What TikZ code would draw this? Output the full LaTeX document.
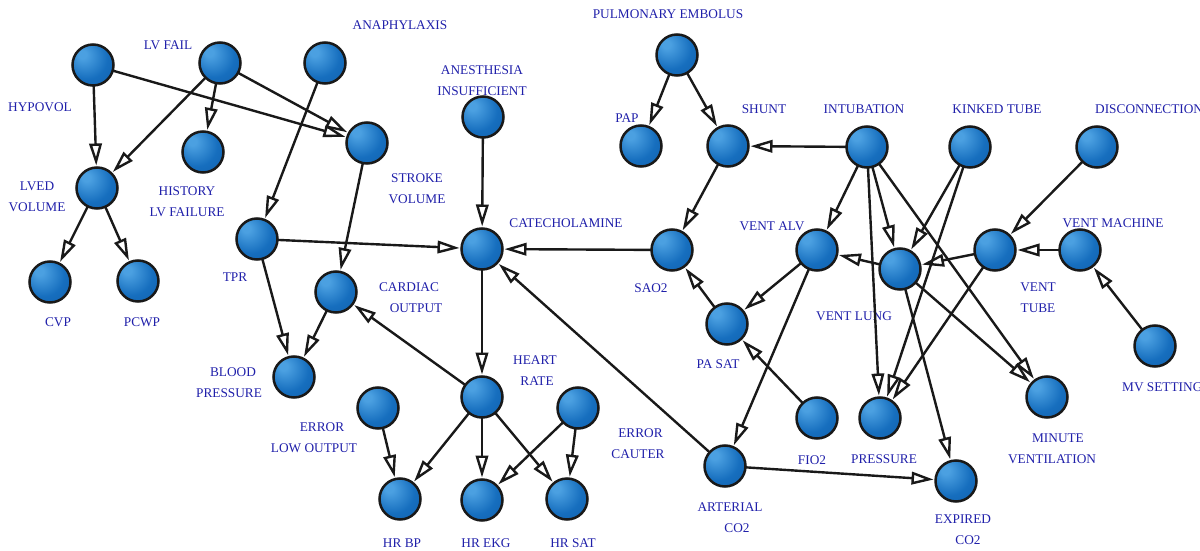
\documentclass[tikz,border=0pt]{standalone}
\usepackage{fontspec}
\setmainfont{Liberation Serif}
\usetikzlibrary{arrows.meta}

\definecolor{labelblue}{RGB}{32,32,170}
\definecolor{sphhi}{RGB}{75,160,225}
\definecolor{sphmid}{RGB}{22,110,190}
\definecolor{sphlow}{RGB}{16,92,168}
\definecolor{sphdark}{RGB}{10,55,110}
% glossy blue ball used for every variable of the network
\pgfdeclareradialshading{bluesphere}{\pgfpoint{-14bp}{14bp}}{%
  color(0bp)=(sphhi); color(5bp)=(sphhi); color(26bp)=(sphmid);
  color(50bp)=(sphlow); color(66bp)=(sphdark)}

\tikzset{
  sphere/.style={circle, minimum size=41pt, inner sep=0pt, outer sep=0pt,
    draw=black!90, line width=2.5pt, shading=bluesphere},
  lbl/.style={text=labelblue, font=\fontsize{13.3}{21}\selectfont,
    align=center, inner sep=0pt},
  link/.style={draw=black!90, line width=2.4pt, shorten >=2pt,
    -{Triangle[length=22pt,width=12.5pt,fill=white]}},
}

\begin{document}
\begin{tikzpicture}[x=1pt,y=-1pt]
\useasboundingbox (0,0) rectangle (1200,551);

% ---- variables ----
\node[sphere] (hypovol)   at (93,65)   {};
\node[sphere] (lvfail)    at (220,63)  {};
\node[sphere] (anaph)     at (325,63)  {};
\node[sphere] (strokevol) at (367,143) {};
\node[sphere] (history)   at (203,152) {};
\node[sphere] (lved)      at (97,188)  {};
\node[sphere] (cvp)       at (50,282)  {};
\node[sphere] (pcwp)      at (138,281) {};
\node[sphere] (tpr)       at (257,239) {};
\node[sphere] (co)        at (336,292) {};
\node[sphere] (bp)        at (294,377) {};
\node[sphere] (anes)      at (483,117) {};
\node[sphere] (catechol)  at (482,249) {};
\node[sphere] (hr)        at (482,397) {};
\node[sphere] (errlow)    at (378,408) {};
\node[sphere] (errcauter) at (578,408) {};
\node[sphere] (hrbp)      at (400,499) {};
\node[sphere] (hrekg)     at (482,500) {};
\node[sphere] (hrsat)     at (567,499) {};
\node[sphere] (pe)        at (677,55)  {};
\node[sphere] (pap)       at (641,146) {};
\node[sphere] (shunt)     at (728,146) {};
\node[sphere] (intub)     at (867,147) {};
\node[sphere] (kinked)    at (970,147) {};
\node[sphere] (disconn)   at (1097,147) {};
\node[sphere] (sao2)      at (672,250) {};
\node[sphere] (ventalv)   at (817,250) {};
\node[sphere] (ventlung)  at (900,269) {};
\node[sphere] (venttube)  at (995,250) {};
\node[sphere] (ventmach)  at (1080,250) {};
\node[sphere] (pasat)     at (727,324) {};
\node[sphere] (fio2)      at (817,418) {};
\node[sphere] (press)     at (880,418) {};
\node[sphere] (expco2)    at (956,481) {};
\node[sphere] (minvent)   at (1047,397) {};
\node[sphere] (mvset)     at (1155,346) {};
\node[sphere] (artco2)    at (725,466) {};

% ---- names ----
\node[lbl] (t-hypovol)   at (40,107)   {HYPOVOL};
\node[lbl] (t-lvfail)    at (168,45)   {LV FAIL};
\node[lbl] (t-anaph)     at (400,25)   {ANAPHYLAXIS};
\node[lbl] (t-strokevol) at (417,188.5) {STROKE\\VOLUME};
\node[lbl] (t-history)   at (187,201.5) {HISTORY\\LV FAILURE};
\node[lbl] (t-lved)      at (37,196.5) {LVED\\VOLUME};
\node[lbl] (t-cvp)       at (58,322)   {CVP};
\node[lbl] (t-pcwp)      at (142,322)  {PCWP};
\node[lbl] (t-tpr)       at (235,277)  {TPR};
\node[lbl] (t-co)        at (409,297.5) {CARDIAC\\\hspace*{14pt}OUTPUT};
\node[lbl] (t-bp)        at (229,383)  {\hspace*{8pt}BLOOD\\PRESSURE};
\node[lbl] (t-anes)      at (482,80.5) {ANESTHESIA\\INSUFFICIENT};
\node[lbl] (t-catechol)  at (566,223)  {CATECHOLAMINE};
\node[lbl] (t-hr)        at (535,370.5) {HEART\\\hspace*{4pt}RATE};
\node[lbl] (t-errlow)    at (314,438)  {\hspace*{16pt}ERROR\\LOW OUTPUT};
\node[lbl] (t-errcauter) at (638,443.5) {\hspace*{5pt}ERROR\\CAUTER};
\node[lbl] (t-hrbp)      at (402,543)  {HR BP};
\node[lbl] (t-hrekg)     at (486,543)  {HR EKG};
\node[lbl] (t-hrsat)     at (573,543)  {HR SAT};
\node[lbl] (t-pe)        at (668,14)   {PULMONARY EMBOLUS};
\node[lbl] (t-pap)       at (627,118)  {PAP};
\node[lbl] (t-shunt)     at (764,109)  {SHUNT};
\node[lbl] (t-intub)     at (864,109)  {INTUBATION};
\node[lbl] (t-kinked)    at (997,109)  {KINKED TUBE};
\node[lbl,anchor=west] (t-disconn) at (1095,109) {DISCONNECTION};
\node[lbl] (t-sao2)      at (651,288)  {SAO2};
\node[lbl] (t-ventalv)   at (772,226)  {VENT ALV};
\node[lbl] (t-ventlung)  at (854,316)  {VENT LUNG};
\node[lbl] (t-venttube)  at (1038,297.5) {VENT\\TUBE};
\node[lbl] (t-ventmach)  at (1113,223) {VENT MACHINE};
\node[lbl] (t-pasat)     at (718,364)  {PA SAT};
\node[lbl] (t-fio2)      at (812,460)  {FIO2};
\node[lbl] (t-press)     at (884,459)  {PRESSURE};
\node[lbl] (t-minvent)   at (1052,448.5) {\hspace*{12pt}MINUTE\\VENTILATION};
\node[lbl,anchor=west] (t-mvset) at (1122,387) {MV SETTING};
\node[lbl] (t-expco2)    at (963,529.5) {EXPIRED\\\hspace*{10pt}CO2};
\node[lbl] (t-artco2)    at (730,517.5) {ARTERIAL\\\hspace*{14pt}CO2};

% ---- dependencies ----
\draw[link] (hypovol) -- (lved);
\draw[link] (hypovol) -- (strokevol);
\draw[link] (lvfail) -- (lved);
\draw[link] (lvfail) -- (history);
\draw[link] (lvfail) -- (strokevol);
\draw[link] (anaph) -- (tpr);
\draw[link] (lved) -- (cvp);
\draw[link] (lved) -- (pcwp);
\draw[link] (strokevol) -- (co);
\draw[link] (tpr) -- (bp);
\draw[link] (tpr) -- (catechol);
\draw[link] (co) -- (bp);
\draw[link] (hr) -- (co);
\draw[link] (anes) -- (catechol);
\draw[link] (sao2) -- (catechol);
\draw[link] (artco2) -- (catechol);
\draw[link] (catechol) -- (hr);
\draw[link] (hr) -- (hrbp);
\draw[link] (hr) -- (hrekg);
\draw[link] (hr) -- (hrsat);
\draw[link] (errlow) -- (hrbp);
\draw[link] (errcauter) -- (hrekg);
\draw[link] (errcauter) -- (hrsat);
\draw[link] (pe) -- (pap);
\draw[link] (pe) -- (shunt);
\draw[link] (intub) -- (shunt);
\draw[link] (shunt) -- (sao2);
\draw[link] (pasat) -- (sao2);
\draw[link] (ventalv) -- (pasat);
\draw[link] (fio2) -- (pasat);
\draw[link] (ventalv) -- (artco2);
\draw[link] (intub) -- (ventalv);
\draw[link] (ventlung) -- (ventalv);
\draw[link] (intub) -- (ventlung);
\draw[link] (kinked) -- (ventlung);
\draw[link] (venttube) -- (ventlung);
\draw[link] (intub) -- (press);
\draw[link] (kinked) -- (press);
\draw[link] (venttube) -- (press);
\draw[link] (intub) -- (minvent);
\draw[link] (ventlung) -- (minvent);
\draw[link] (ventlung) -- (expco2);
\draw[link] (artco2) -- (expco2);
\draw[link] (disconn) -- (venttube);
\draw[link] (ventmach) -- (venttube);
\draw[link] (mvset) -- (ventmach);
\end{tikzpicture}
\end{document}
